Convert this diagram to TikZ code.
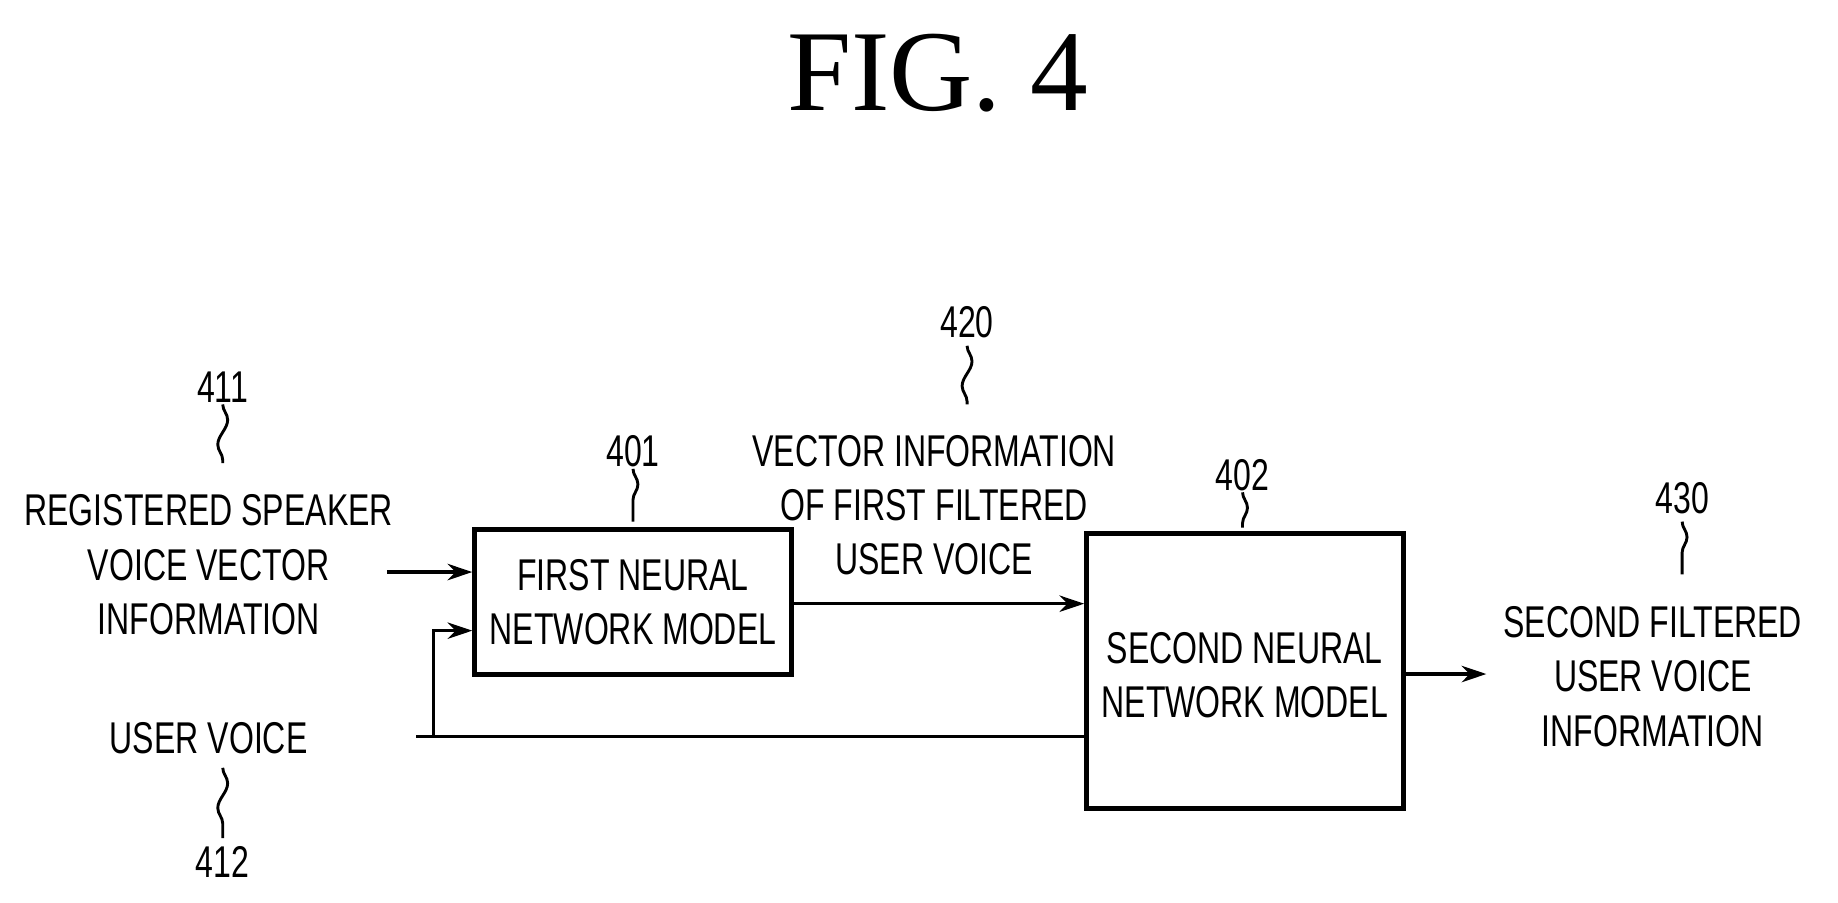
\documentclass[tikz,border=0pt]{standalone}
\usepackage{fontspec}
\setmainfont{Liberation Serif}
\newfontfamily\pf[FakeStretch=0.72]{Liberation Sans}
\usetikzlibrary{arrows.meta,decorations.pathmorphing}
\begin{document}
\begin{tikzpicture}[x=1cm,y=-1cm,
  lbl/.style={font=\pf\fontsize{10.8}{13.2}\selectfont,align=center,inner sep=0},
  box/.style={draw,line width=1.2pt,inner sep=0},
  con/.style={line width=0.8pt,-{Stealth[length=6pt,width=4pt]}},
  lead/.style={line width=0.7pt,decorate,decoration={snake,amplitude=1.2pt,segment length=12pt}}]
\useasboundingbox (0,0) rectangle (15.68,7.70);
\node[font=\fontsize{28}{32}\selectfont] (title) at (8.0,0.62) {FIG.\ 4};
\node[box,minimum width=2.70cm,minimum height=1.23cm] (b1) at (5.40,5.135) {};
\node[lbl] (b1t) at (b1.center) {FIRST NEURAL\\NETWORK MODEL};
\node[box,minimum width=2.70cm,minimum height=2.35cm] (b2) at (10.62,5.725) {};
\node[lbl] (b2t) at (10.62,5.76) {SECOND NEURAL\\NETWORK MODEL};
\node[lbl] (n411) at (1.90,3.30) {411};
\node[lbl] (t411) at (1.78,4.82) {REGISTERED SPEAKER\\VOICE VECTOR\\INFORMATION};
\node[lbl] (tuv) at (1.78,6.30) {USER VOICE};
\node[lbl] (n412) at (1.90,7.35) {412};
\node[lbl] (n401) at (5.40,3.85) {401};
\node[lbl] (n420) at (8.25,2.75) {420};
\node[lbl] (t420) at (7.97,4.31) {VECTOR INFORMATION\\OF FIRST FILTERED\\USER VOICE};
\node[lbl] (n402) at (10.60,4.05) {402};
\node[lbl] (n430) at (14.35,4.25) {430};
\node[lbl] (t430) at (14.10,5.77) {SECOND FILTERED\\USER VOICE\\INFORMATION};
\coordinate (a1) at (3.30,4.88);
\coordinate (u0) at (3.55,6.28);
\coordinate (br) at (3.70,6.28);
\coordinate (bu) at (3.70,5.38);
\coordinate (o2) at (12.68,5.75);
\draw[con] (a1) -- (a1 -| b1.west);
\draw[line width=0.8pt] (u0) -- (u0 -| b2.west);
\draw[con] (br) -- (bu) -- (bu -| b1.west);
\draw[con] (b1.east |- 0,5.15) -- (b2.west |- 0,5.15);
\draw[con] (b2.east |- o2) -- (o2);
\draw[lead] (1.90,3.45) -- (1.90,3.95);
\draw[lead] (1.90,6.55) -- (1.90,7.15);
\draw[lead] (5.40,4.00) -- (5.40,4.45);
\draw[lead] (8.25,2.95) -- (8.25,3.45);
\draw[lead] (10.60,4.20) -- (10.60,4.50);
\draw[lead] (14.35,4.45) -- (14.35,4.90);
\end{tikzpicture}
\end{document}
